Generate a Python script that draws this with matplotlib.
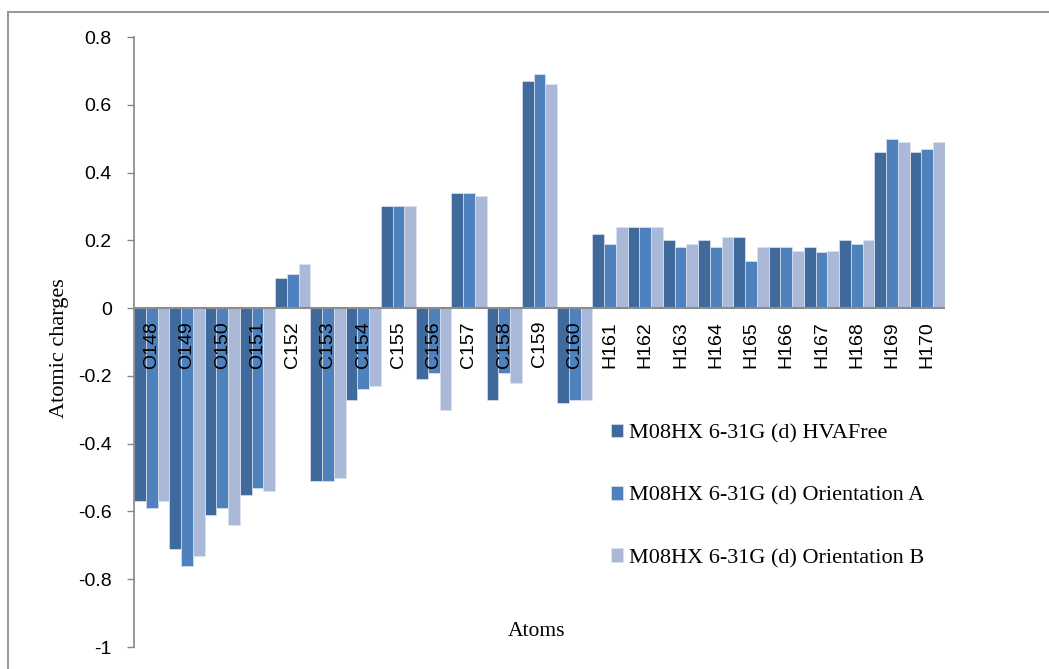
import numpy as np
import matplotlib
matplotlib.use("Agg")
import matplotlib.pyplot as plt
from matplotlib.patches import Rectangle

# ****Data****
atoms = ["O148", "O149", "O150", "O151", "C152", "C153", "C154", "C155", "C156",
         "C157", "C158", "C159", "C160", "H161", "H162", "H163", "H164", "H165",
         "H166", "H167", "H168", "H169", "H170"]
hva_free = [-0.57, -0.71, -0.61, -0.55, 0.09, -0.51, -0.27, 0.30, -0.21, 0.34, -0.27,
            0.67, -0.28, 0.22, 0.24, 0.20, 0.20, 0.21, 0.18, 0.18, 0.20, 0.46, 0.46]
orient_a = [-0.59, -0.76, -0.59, -0.53, 0.10, -0.51, -0.24, 0.30, -0.19, 0.34, -0.19,
            0.69, -0.27, 0.19, 0.24, 0.18, 0.18, 0.14, 0.18, 0.165, 0.19, 0.50, 0.47]
orient_b = [-0.57, -0.73, -0.64, -0.54, 0.13, -0.50, -0.23, 0.30, -0.30, 0.33, -0.22,
            0.66, -0.27, 0.24, 0.24, 0.19, 0.21, 0.18, 0.17, 0.17, 0.20, 0.49, 0.49]
series_names = ["M08HX 6-31G (d) HVAFree",
                "M08HX 6-31G (d) Orientation A",
                "M08HX 6-31G (d) Orientation B"]
colors = ["#3f6a9b", "#4f81bd", "#aab9d7"]

W, H = 1049, 669
fig = plt.figure(figsize=(W / 100, H / 100), dpi=100)
ax = fig.add_axes([134 / W, 1 - 647 / H, (945 - 134) / W, (647 - 37) / H])

sans = "Liberation Sans"
serif = "Liberation Serif"

x = np.arange(len(atoms))
width = 1 / 3
for k, vals in enumerate([hva_free, orient_a, orient_b]):
    ax.bar(x + (k - 1) * width, vals, width, color=colors[k], label=series_names[k],
           edgecolor="#dbe2ef", linewidth=0.5, zorder=2)

ax.set_xlim(-0.5, len(atoms) - 0.5)
ax.set_ylim(-1, 0.8)
ax.set_yticks(np.arange(-1, 0.81, 0.2))
ax.set_yticklabels(["-1", "-0.8", "-0.6", "-0.4", "-0.2", "0", "0.2", "0.4", "0.6", "0.8"],
                   fontfamily=sans, fontsize=14)
ax.tick_params(axis="y", direction="out", length=5, width=1, color="#868686", pad=11)
ax.set_xticks([])

for s in ["top", "right", "bottom"]:
    ax.spines[s].set_visible(False)
ax.spines["left"].set_color("#868686")
ax.spines["left"].set_linewidth(1.2)
ax.axhline(0, color="#8c8c8c", linewidth=1.5, zorder=3)

# category labels sit just under the zero line
for i, name in enumerate(atoms):
    ax.text(i, -0.038, name, rotation=90, ha="center", va="top",
            fontfamily=sans, fontsize=14, zorder=4)

ax.set_ylabel("Atomic charges", fontfamily=serif, fontsize=16)
ax.yaxis.set_label_coords(-0.080, 0.49)
fig.text(537 / W, 1 - 632 / H, "Atoms", ha="center", va="center",
         fontfamily=serif, fontsize=15.5)

ax.legend(loc="upper left", bbox_to_anchor=(611 / W, 1 - 424 / H),
          bbox_transform=fig.transFigure,
          frameon=False, prop={"family": serif, "size": 16},
          handlelength=0.55, handleheight=0.55, handletextpad=0.25,
          labelspacing=1.92, borderpad=0, borderaxespad=0)

# outer chart frame (only top and left edges show)
fig.patches.append(Rectangle((8 / W, -0.2), 1.2, 1.2 - 12 / H, transform=fig.transFigure,
                             fill=False, edgecolor="#9a9a9a", linewidth=1.5))

fig.savefig("out.png", dpi=100)
